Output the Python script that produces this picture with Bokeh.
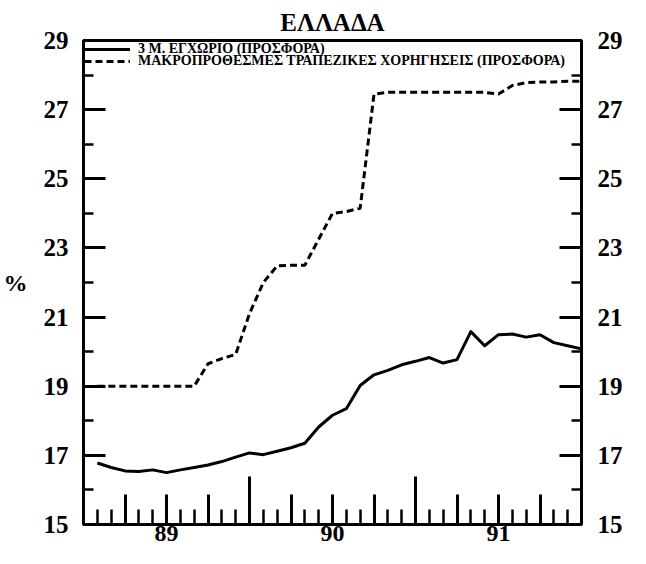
import math
from bokeh.plotting import figure
from bokeh.models import Range1d, LinearAxis, FixedTicker, Legend, LegendItem
from bokeh.embed import file_html
from bokeh.resources import INLINE

# ---- data (monthly, index 0 = Jan 1989, 36 = Jan 1992) ----
month_index = [1, 2, 3, 4, 5, 6, 7, 8, 9, 10, 11, 12,
               13, 14, 15, 16, 17, 18, 19, 20, 21, 22, 23, 24,
               25, 26, 27, 28, 29, 30, 31, 32, 33, 34, 35, 36]
deposit_3m = [16.78, 16.65, 16.55, 16.53, 16.58, 16.50, 16.58, 16.65, 16.72, 16.82, 16.95, 17.07,
              17.02, 17.12, 17.22, 17.35, 17.82, 18.16, 18.35, 19.02, 19.33, 19.46, 19.62, 19.72,
              19.83, 19.67, 19.77, 20.58, 20.17, 20.49, 20.51, 20.42, 20.49, 20.26, 20.17, 20.08]
long_term_loans = [19.00, 19.00, 19.00, 19.00, 19.00, 19.00, 19.00, 19.00, 19.65, 19.80, 19.92, 21.10,
                   22.00, 22.48, 22.50, 22.50, 23.25, 24.00, 24.05, 24.15, 27.45, 27.50, 27.50, 27.50,
                   27.50, 27.50, 27.50, 27.50, 27.50, 27.45, 27.70, 27.78, 27.80, 27.80, 27.82, 27.82]

series_names = ["3 Μ. ΕΓΧΩΡΙΟ (ΠΡΟΣΦΟΡΑ)",
                "ΜΑΚΡΟΠΡΟΘΕΣΜΕΣ ΤΡΑΠΕΖΙΚΕΣ ΧΟΡΗΓΗΣΕΙΣ (ΠΡΟΣΦΟΡΑ)"]
title_text = "ΕΛΛΑΔΑ"
y_label = "%"

y_major = [15, 17, 19, 21, 23, 25, 27, 29]
y_minor = [16, 18, 20, 22, 24, 26, 28]
x_quarter_ticks = [3, 6, 9, 15, 18, 21, 27, 30, 33]
x_month_ticks = list(range(1, 36))
x_year_starts = [12, 24]
x_labels = {6: "89", 18: "90", 30: "91"}

FONT = "Liberation Serif"

p = figure(width=630, height=548, output_backend="svg", toolbar_location=None,
           x_range=Range1d(0, 36), y_range=Range1d(15, 29),
           min_border_left=77, min_border_right=49, min_border_top=40, min_border_bottom=24,
           x_axis_type=None, y_axis_type=None)
p.xgrid.visible = False
p.ygrid.visible = False
p.outline_line_color = "black"
p.outline_line_width = 3
p.outline_line_alpha = 1.0
p.background_fill_color = "white"
p.border_fill_color = "white"

p.title.text = title_text
p.title.align = "center"
p.title.text_font = FONT
p.title.text_font_size = "25px"
p.title.text_font_style = "bold"
p.title.text_color = "black"
p.title.standoff = 10


def style_axis(ax):
    ax.axis_line_width = 3
    ax.major_tick_out = 0
    ax.minor_tick_out = 0
    ax.major_tick_line_width = 3
    ax.minor_tick_line_width = 2.5
    ax.major_label_text_font = FONT
    ax.major_label_text_font_style = "bold"
    ax.major_label_text_color = "black"


# y axes
yticker = FixedTicker(ticks=y_major, minor_ticks=y_minor)
left = LinearAxis(ticker=yticker)
style_axis(left)
left.major_tick_in = 22
left.minor_tick_in = 10
left.major_label_text_font_size = "25px"
left.major_label_standoff = 15
left.axis_label = y_label
left.axis_label_orientation = "horizontal"
left.axis_label_text_font = FONT
left.axis_label_text_font_style = "bold"
left.axis_label_text_font_size = "24px"
left.axis_label_text_color = "black"
left.axis_label_standoff = 13
p.add_layout(left, "left")

right = LinearAxis(ticker=yticker)
style_axis(right)
right.major_tick_in = 22
right.minor_tick_in = 10
right.major_label_text_font_size = "25px"
right.major_label_standoff = 16
p.add_layout(right, "right")

# x axis
xticker = FixedTicker(ticks=x_quarter_ticks, minor_ticks=x_month_ticks)
bottom = LinearAxis(ticker=xticker)
style_axis(bottom)
bottom.major_tick_in = 30
bottom.minor_tick_in = 15
bottom.major_label_text_font_size = "24px"
bottom.major_label_standoff = 1
bottom.major_label_overrides = {t: x_labels.get(t, "") for t in x_quarter_ticks}
p.add_layout(bottom, "below")

# tall year-boundary ticks
p.ray(x=x_year_starts, y=[15] * len(x_year_starts), length=48, length_units="screen",
      angle=math.pi / 2, line_color="black", line_width=3)

r1 = p.line(month_index, deposit_3m, line_color="black", line_width=3, line_join="round")
r2 = p.line(month_index, long_term_loans, line_color="black", line_width=3,
            line_dash="7 4")


def make_legend(label, renderer, loc):
    return Legend(items=[LegendItem(label=label, renderers=[renderer])],
                  location=loc, orientation="vertical",
                  label_text_font=FONT, label_text_font_style="bold",
                  label_text_font_size="14px", label_text_color="black",
                  label_height=10, glyph_height=10,
                  glyph_width=46, label_standoff=8, spacing=0, padding=0, margin=0,
                  border_line_color=None, background_fill_alpha=0)


p.add_layout(make_legend(series_names[0], r1, (1, 467)), "center")
p.add_layout(make_legend(series_names[1], r2, (1, 455)), "center")

open("out.html", "w").write(file_html(p, INLINE))
